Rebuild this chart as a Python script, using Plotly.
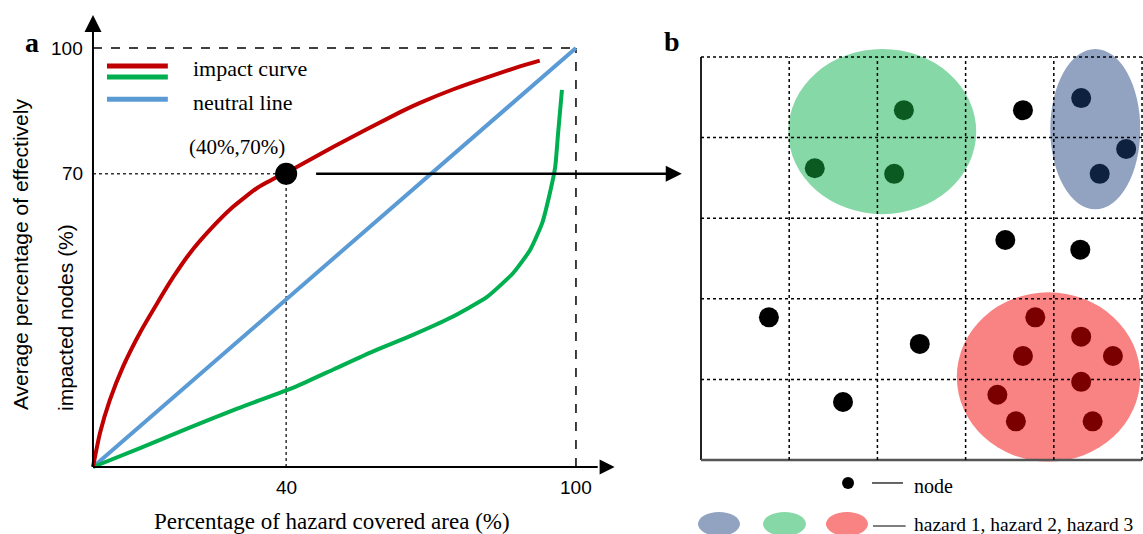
import plotly.graph_objects as go

# ---------------- Panel a data ----------------
impact_red_x = [0, 1.45, 3.5, 6.2, 9.7, 13.3, 16.6, 20.1, 24.2, 29, 34, 38.1, 42.2, 49.7, 63.6,
                67.7, 74.5, 81.6, 88.4, 92.5]
impact_red_y = [0, 8.1, 16, 23.9, 32, 39.1, 45.3, 51.1, 56.6, 62.1, 66.6, 69.2, 71.6, 76.4, 84.7,
                86.9, 90.1, 93, 95.6, 97]
impact_green_x = [0, 10, 20, 30, 42, 50, 58, 66, 74, 81.6, 87, 90.5, 93, 94.6, 95.7, 96.3, 97.1]
impact_green_y = [0, 4.6, 9.4, 14, 19.2, 23.4, 27.6, 31.4, 35.6, 40.6, 46.3, 51.8, 58.2, 65.4, 71.6, 79.7, 90]
neutral_x = [0, 100]
neutral_y = [0, 100]
marked_x, marked_y = 40, 70
marked_label = "(40%,70%)"
x_tick_vals = [40, 100]
x_tick_text = ["40", "100"]
y_tick_vals = [70, 100]
y_tick_text = ["70", "100"]
legend_a_labels = ["impact curve", "neutral line"]
x_title = "Percentage of hazard covered area (%)"
y_title_lines = ["Average percentage of effectively", "impacted nodes (%)"]

# ---------------- Panel b data ----------------
grid_n = 5
hazard_labels = ["hazard 1", "hazard 2", "hazard 3"]
hazard_fill = ["#91a3c1", "#86d8a7", "#f98282"]
hazard_x0 = [3.96, 0.99, 2.90]
hazard_x1 = [4.98, 3.12, 4.98]
hazard_y0 = [3.11, 3.05, -0.02]
hazard_y1 = [5.10, 5.10, 2.08]
node_x = [3.65, 3.45, 4.30, 0.77, 2.48, 1.61,
          4.31, 4.82, 4.52,
          2.30, 1.29, 2.19,
          3.79, 4.31, 3.65, 4.67, 4.31, 3.36, 3.57, 4.44]
node_y = [4.34, 2.73, 2.61, 1.77, 1.44, 0.72,
          4.49, 3.86, 3.55,
          4.34, 3.62, 3.55,
          1.77, 1.53, 1.29, 1.29, 0.97, 0.81, 0.48, 0.48]
node_group = [0] * 6 + [1] * 3 + [2] * 3 + [3] * 8
node_colors = {0: "#000000", 1: "#0e2240", 2: "#0b5a22", 3: "#7a0000"}

RED, GREEN, BLUE = "#c00000", "#00b050", "#5b9bd5"
SERIF = "Liberation Serif, Times New Roman, serif"
SANS = "Liberation Sans Narrow, Liberation Sans, Arial, sans-serif"

fig = go.Figure()

def line(x, y, color, width, dash="solid", shape="linear", xa="x", ya="y", smoothing=None):
    d = dict(color=color, width=width, dash=dash, shape=shape)
    if smoothing is not None:
        d["smoothing"] = smoothing
    fig.add_trace(go.Scatter(x=x, y=y, mode="lines", line=d, xaxis=xa, yaxis=ya,
                             hoverinfo="skip", showlegend=False))

# guide lines
line([0, 100], [100, 100], "#000", 1.5, "dash")
line([100, 100], [0, 100], "#000", 1.5, "dash")
line([0, marked_x], [marked_y, marked_y], "#333", 1.5, "dot")
line([marked_x, marked_x], [0, marked_y], "#333", 1.5, "dot")

# curves
line(neutral_x, neutral_y, BLUE, 4)
line(impact_green_x, impact_green_y, GREEN, 4, shape="spline", smoothing=0.5)
line(impact_red_x, impact_red_y, RED, 4, shape="spline", smoothing=0.5)

# axes with arrows
line([0, 0], [0, 104], "#000", 2)
line([0, 104.5], [0, 0], "#000", 2)
fig.add_trace(go.Scatter(x=[0], y=[107.9], mode="markers",
                         marker=dict(symbol="arrow-up", size=17, color="#000", line=dict(width=0)),
                         hoverinfo="skip", showlegend=False))
fig.add_trace(go.Scatter(x=[108], y=[0], mode="markers",
                         marker=dict(symbol="arrow-right", size=15, color="#000", line=dict(width=0)),
                         hoverinfo="skip", showlegend=False))

# arrow from marked point into panel b
line([46.2, 119], [marked_y, marked_y], "#000", 2.5)
fig.add_trace(go.Scatter(x=[121.9], y=[marked_y], mode="markers",
                         marker=dict(symbol="arrow-right", size=16, color="#000", line=dict(width=0)),
                         hoverinfo="skip", showlegend=False))

# marked point
fig.add_trace(go.Scatter(x=[marked_x], y=[marked_y], mode="markers",
                         marker=dict(size=22, color="#000"), hoverinfo="skip", showlegend=False))

# legend (panel a)
line([2.9, 15.5], [95.7, 95.7], RED, 5)
line([2.9, 15.5], [93.1, 93.1], GREEN, 5)
line([2.9, 15.5], [87.8, 87.8], BLUE, 5)

ann = []
ann.append(dict(x=20.3, y=95.2, text=legend_a_labels[0], xanchor="left", yanchor="middle",
                showarrow=False, font=dict(family=SERIF, size=22, color="#000")))
ann.append(dict(x=20.3, y=87.1, text=legend_a_labels[1], xanchor="left", yanchor="middle",
                showarrow=False, font=dict(family=SERIF, size=22, color="#000")))
ann.append(dict(x=29.8, y=76.4, text=marked_label, xanchor="center", yanchor="middle",
                showarrow=False, font=dict(family=SERIF, size=21, color="#000")))
for v, t in zip(y_tick_vals, y_tick_text):
    ann.append(dict(x=-1.6, y=v, text=t, xanchor="right", yanchor="middle", showarrow=False,
                    font=dict(family=SANS, size=19, color="#000")))
for v, t in zip(x_tick_vals, x_tick_text):
    ann.append(dict(x=v, y=-4.8, text=t, xanchor="center", yanchor="middle", showarrow=False,
                    font=dict(family=SANS, size=19, color="#000")))
ann.append(dict(x=49.5, y=-12.9, text=x_title, xanchor="center", yanchor="middle", showarrow=False,
                font=dict(family=SERIF, size=23, color="#000")))
ann.append(dict(x=-15.1, y=50.6, text=y_title_lines[0], textangle=-90, xanchor="center", yanchor="middle",
                showarrow=False, font=dict(family=SANS, size=21, color="#000")))
ann.append(dict(x=-5.8, y=35.8, text=y_title_lines[1], textangle=-90, xanchor="center", yanchor="middle",
                showarrow=False, font=dict(family=SANS, size=21, color="#000")))
ann.append(dict(x=23 / 1143, y=1 - 25 / 534, xref="paper", yref="paper", text="<b>a</b>",
                showarrow=False, font=dict(family=SERIF, size=28, color="#000")))
ann.append(dict(x=672 / 1143, y=1 - 24 / 534, xref="paper", yref="paper", text="<b>b</b>",
                showarrow=False, font=dict(family=SERIF, size=28, color="#000")))

# ---------------- Panel b ----------------
shapes = []
for x0, x1, y0, y1, c in zip(hazard_x0, hazard_x1, hazard_y0, hazard_y1, hazard_fill):
    shapes.append(dict(type="circle", xref="x2", yref="y2", x0=x0, x1=x1, y0=y0, y1=y1,
                       fillcolor=c, line=dict(width=0), layer="below"))
for i in range(grid_n + 1):
    solid_v = (i == 0)
    shapes.append(dict(type="line", xref="x2", yref="y2", x0=i, x1=i, y0=0, y1=grid_n, layer="below",
                       line=dict(color="#000" if not solid_v else "#222", width=1.5 if not solid_v else 2,
                                 dash="solid" if solid_v else "dot")))
    solid_h = (i == 0)
    shapes.append(dict(type="line", xref="x2", yref="y2", x0=0, x1=grid_n, y0=i, y1=i, layer="below",
                       line=dict(color="#000" if not solid_h else "#555", width=1.5 if not solid_h else 2.5,
                                 dash="solid" if solid_h else "dot")))

# nodes
fig.add_trace(go.Scatter(x=node_x, y=node_y, mode="markers", xaxis="x2", yaxis="y2",
                         marker=dict(size=20, color=[node_colors[g] for g in node_group], line=dict(width=0)),
                         hoverinfo="skip", showlegend=False))

# legend (panel b)
fig.add_trace(go.Scatter(x=[1.667], y=[-0.285], mode="markers", xaxis="x2", yaxis="y2",
                         marker=dict(size=12, color="#000"), hoverinfo="skip", showlegend=False))
line([1.939, 2.29], [-0.285, -0.285], "#000", 1.2, xa="x2", ya="y2")
line([1.95, 2.32], [-0.819, -0.819], "#000", 1.2, xa="x2", ya="y2")
leg_x0 = [-0.034, 0.703, 1.417]
leg_x1 = [0.442, 1.19, 1.893]
for x0, x1, c in zip(leg_x0, leg_x1, hazard_fill):
    shapes.append(dict(type="circle", xref="x2", yref="y2", x0=x0, x1=x1, y0=-0.943, y1=-0.645,
                       fillcolor=c, line=dict(width=0), layer="below"))
ann.append(dict(x=2.39, y=-0.32, xref="x2", yref="y2", text="node", xanchor="left", yanchor="middle",
                showarrow=False, font=dict(family=SERIF, size=20, color="#000")))
ann.append(dict(x=2.39, y=-0.806, xref="x2", yref="y2", text=", ".join(hazard_labels),
                xanchor="left", yanchor="middle", showarrow=False,
                font=dict(family=SERIF, size=19.5, color="#000")))

fig.update_layout(
    width=1143, height=534, margin=dict(l=0, r=0, t=0, b=0),
    paper_bgcolor="white", plot_bgcolor="rgba(0,0,0,0)", showlegend=False,
    xaxis=dict(domain=[0, 1], range=[-19.25, 217.4], visible=False),
    yaxis=dict(domain=[0, 1], range=[-15.99, 111.46], visible=False),
    xaxis2=dict(domain=[692 / 1143, 1], range=[-0.102, 5.011], visible=False, anchor="y2"),
    yaxis2=dict(domain=[0, 1], range=[-0.918, 5.707], visible=False, anchor="x2"),
    shapes=shapes, annotations=ann,
)

fig.write_html("out.html", config={"displayModeBar": False},
               post_script="document.body.style.margin='0';")
